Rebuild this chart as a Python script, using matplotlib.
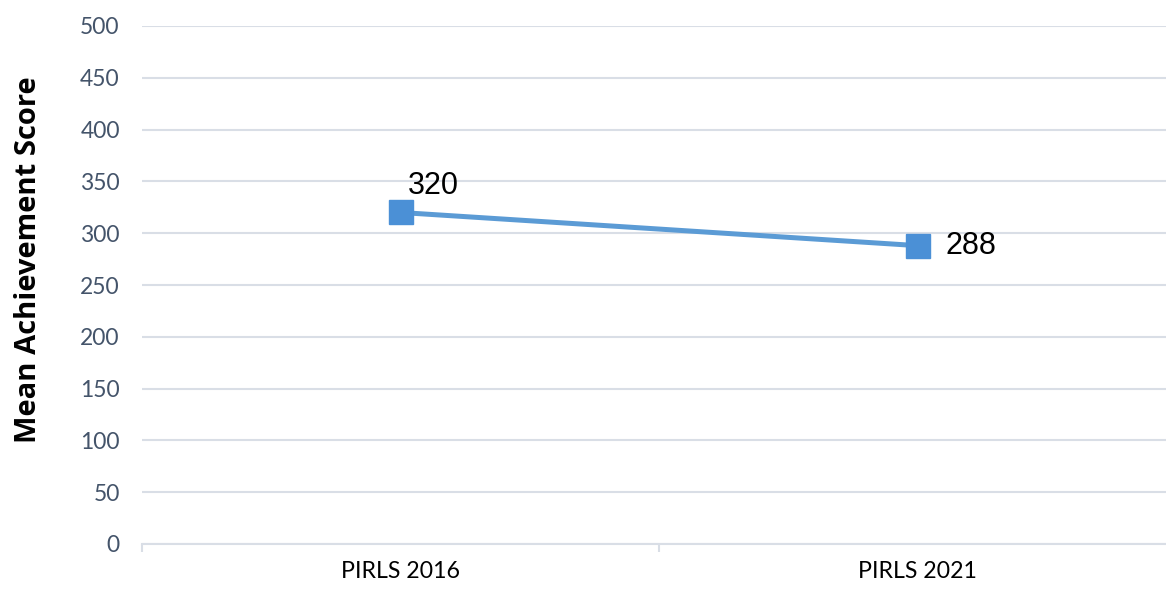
import matplotlib.pyplot as plt
import numpy as np

# PIRLS mean achievement scores
categories = ['PIRLS 2016', 'PIRLS 2021']
scores = [320, 288]
y_ticks = [0, 50, 100, 150, 200, 250, 300, 350, 400, 450, 500]

grid_col = '#d9dee6'
line_col = '#5b9bd5'

fig = plt.figure(figsize=(11.66, 5.9), dpi=100)
ax = fig.add_axes([142 / 1166, 46 / 590, 1034 / 1166, 518 / 590])

x = np.arange(len(categories))
ax.plot(x, scores, color=line_col, lw=3.6, marker='s', ms=17,
        mfc='#4b90d6', mec='#4b90d6', zorder=3)

# data labels
ax.annotate(str(scores[0]), (x[0], scores[0]), xytext=(5, 8), textcoords='offset points',
            fontsize=22, family='Liberation Sans', ha='left', va='bottom')
ax.annotate(str(scores[1]), (x[1], scores[1]), xytext=(20, 0), textcoords='offset points',
            fontsize=22, family='Liberation Sans', ha='left', va='center')

ax.set_xlim(-0.5, 1.5)
ax.set_ylim(0, 500)
ax.set_yticks(y_ticks)
ax.set_yticklabels([str(v) for v in y_ticks], family='Lato', fontsize=16.5, color='#44546a')
ax.set_xticks(x)
ax.set_xticklabels(categories, family='Lato', fontsize=16.7, color='black')
ax.set_xticks([-0.5, 0.5, 1.5], minor=True)

ax.grid(axis='y', color=grid_col, lw=1.5)
ax.set_axisbelow(True)
for s in ['top', 'right', 'left']:
    ax.spines[s].set_visible(False)
ax.spines['bottom'].set_color(grid_col)
ax.spines['bottom'].set_linewidth(1.5)

ax.tick_params(axis='y', length=0, pad=16)
ax.tick_params(axis='x', which='major', length=0, pad=12)
ax.tick_params(axis='x', which='minor', length=6, width=1.5, color=grid_col)

ax.set_ylabel('Mean Achievement Score', family='Open Sans', fontweight='bold',
              fontsize=21, va='center')
ax.yaxis.set_label_coords(-0.110, 0.548)

fig.savefig('out.png', dpi=100)
